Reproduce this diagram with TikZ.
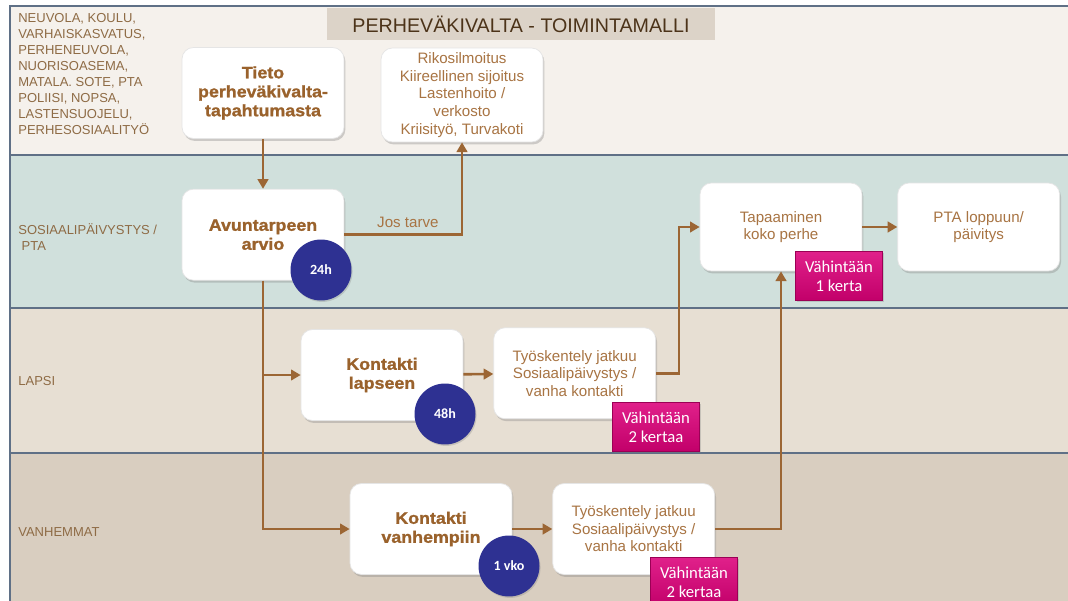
\documentclass[tikz,border=0pt]{standalone}
\usepackage{fontspec}
\setmainfont{Liberation Sans}
\newfontfamily\paksu[FakeStretch=1.08,FakeBold=1.2]{Liberation Sans}
\newfontfamily\calib{Carlito}
\usetikzlibrary{%
  arrows.meta,%
  positioning,% wg. " of "
  shadows%
}

\definecolor{ruskea}{HTML}{9C6634}
\definecolor{otsikkoruskea}{HTML}{9A622C}
\definecolor{tekstiruskea}{HTML}{A87443}
\definecolor{sivuruskea}{HTML}{8E6B45}
\definecolor{kaista1}{HTML}{F5F1EC}
\definecolor{kaista2}{HTML}{D0E0DC}
\definecolor{kaista3}{HTML}{E7DFD3}
\definecolor{kaista4}{HTML}{D9CEC0}
\definecolor{rajaviiva}{HTML}{5F7086}
\definecolor{otsikkotausta}{HTML}{DCD3C8}
\definecolor{pallo}{HTML}{2E3192}
\definecolor{magenta1}{HTML}{E0208A}
\definecolor{magenta2}{HTML}{C2006A}

\tikzset{
  laatikko/.style={fill=white, draw=black!10, line width=0.4pt, rounded corners=6.5pt,
    minimum width=3.24cm, minimum height=1.82cm, align=center, inner sep=2pt,
    drop shadow={shadow xshift=0.8pt, shadow yshift=-1.4pt, opacity=0.35}},
  vahva/.style={laatikko, text=otsikkoruskea,
    font=\paksu\bfseries\fontsize{9.4}{10.8}\selectfont},
  tavallinen/.style={laatikko, text=tekstiruskea,
    font=\fontsize{8.6}{10}\selectfont},
  aikapallo/.style={circle, fill=pallo, minimum size=1.22cm, inner sep=0pt,
    text=white, font=\calib\bfseries\fontsize{8}{9}\selectfont,
    drop shadow={shadow xshift=0.6pt, shadow yshift=-0.8pt, opacity=0.3}},
  kerrat/.style={top color=magenta1, bottom color=magenta2, draw=magenta2!80!black,
    line width=0.3pt, minimum width=1.74cm, minimum height=0.97cm, inner sep=1pt,
    align=center, text=white, font=\calib\fontsize{9.5}{10.6}\selectfont,
    drop shadow={shadow xshift=0.6pt, shadow yshift=-0.8pt, opacity=0.3}},
  kaistateksti/.style={anchor=west, align=left, text=sivuruskea, inner sep=0pt,
    font=\fontsize{7.4}{9.1}\selectfont},
  nuoli/.style={draw=ruskea, line width=1.5pt, -{Triangle[length=5.5pt,width=6pt]}},
  raja/.style={draw=rajaviiva, line width=0.7pt}
}

\begin{document}
\begin{tikzpicture}[x=0.02cm,y=-0.02cm]
  \useasboundingbox (0,0) rectangle (1068,601);
  \fill[white] (0,0) rectangle (1068,601);

  %kaistat
  \fill[kaista1] (10,6) rectangle (1068,155);
  \fill[kaista2] (10,155) rectangle (1068,308);
  \fill[kaista3] (10,308) rectangle (1068,453);
  \fill[kaista4] (10,453) rectangle (1068,601);
  \draw[raja] (10,601) -- (10,6) -- (1068,6);
  \draw[raja] (10,155) -- (1068,155);
  \draw[raja] (10,308) -- (1068,308);
  \draw[raja] (10,453) -- (1068,453);

  \node[fill=otsikkotausta, minimum width=7.76cm, minimum height=0.64cm, inner sep=0pt,
    text=black!60!brown, font=\fontsize{11.2}{12}\selectfont] (otsikko) at (521,24)
    {PERHEVÄKIVALTA - TOIMINTAMALLI};

  %kaistojen nimet
  \node[kaistateksti, anchor=north west] (toimijat) at (18,13)
    {NEUVOLA, KOULU,\\VARHAISKASVATUS,\\PERHENEUVOLA,\\NUORISOASEMA,\\MATALA. SOTE, PTA\\POLIISI, NOPSA,\\LASTENSUOJELU,\\PERHESOSIAALITYÖ};
  \node[kaistateksti] (sosiaali) at (18,237) {SOSIAALIPÄIVYSTYS /\\\hspace*{0.25em}PTA};
  \node[kaistateksti] (lapsi) at (18,381) {LAPSI};
  \node[kaistateksti] (vanhemmat) at (18,532) {VANHEMMAT};

  %laatikot
  \node[vahva] (tieto) at (263,93) {Tieto\\perheväkivalta-\\tapahtumasta};
  \node[tavallinen, minimum height=1.88cm] (rikos) at (462,95)
    {Rikosilmoitus\\Kiireellinen sijoitus\\Lastenhoito /\\verkosto\\Kriisityö, Turvakoti};
  \node[vahva] (arvio) [below=1cm of tieto] {Avuntarpeen\\arvio};

  \node[vahva] (lapseen) at (382,375) {Kontakti\\lapseen};
  \node[tavallinen] (tyolapsi) [right=0.6cm of lapseen, yshift=1pt]
    {Työskentely jatkuu\\Sosiaalipäivystys /\\vanha kontakti};

  \node[vahva] (vanhempiin) at (431,529) {Kontakti\\vanhempiin};
  \node[tavallinen] (tyovanhemmat) [right=0.8cm of vanhempiin]
    {Työskentely jatkuu\\Sosiaalipäivystys /\\vanha kontakti};

  \node[tavallinen, minimum height=1.76cm] (tapaaminen) at (781,227) {Tapaaminen\\koko perhe};
  \node[tavallinen, minimum height=1.76cm] (loppuun) [right=0.7cm of tapaaminen]
    {PTA loppuun/\\päivitys};

  %nuolet
  \coordinate (haara) at (arvio.south |- lapseen.west);
  \path[nuoli] (tieto) -- (arvio);
  \draw[nuoli] (arvio.east) -| node[pos=0.27, above, text=tekstiruskea,
    font=\fontsize{8.6}{10}\selectfont] {Jos tarve} (rikos.south);
  \draw[nuoli] (arvio.south) |- (vanhempiin.west);
  \draw[nuoli] (haara) -- (lapseen.west);
  \draw[nuoli] (lapseen) -- (tyolapsi);
  \draw[nuoli] (vanhempiin) -- (tyovanhemmat);
  \draw[nuoli] (tyolapsi.east) -- ++(23,0) |- (tapaaminen.west);
  \draw[nuoli] (tyovanhemmat.east) -| (tapaaminen.south);
  \draw[nuoli] (tapaaminen) -- (loppuun);

  %ajat ja kerrat
  \node[aikapallo] (aika24) at (321,270) {24h};
  \node[aikapallo] (aika48) at (445,414) {48h};
  \node[aikapallo] (aikavko) at (509,566) {1 vko};

  \node[kerrat] (kerta1) at (839,276) {Vähintään\\1 kerta};
  \node[kerrat] (kerrat2lapsi) at (656,427) {Vähintään\\2 kertaa};
  \node[kerrat] (kerrat2vanh) at (694,582) {Vähintään\\2 kertaa};
\end{tikzpicture}
\end{document}
